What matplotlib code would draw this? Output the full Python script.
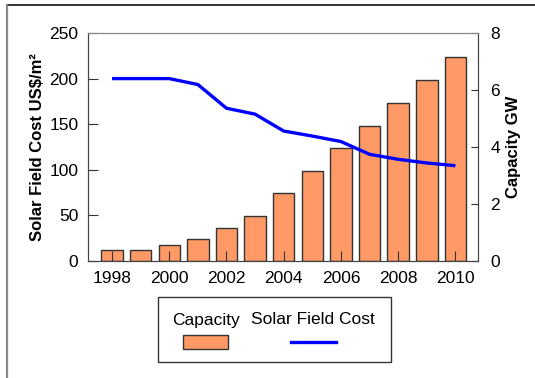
import numpy as np
import matplotlib.pyplot as plt
from matplotlib.lines import Line2D
from matplotlib.patches import Rectangle

plt.rcParams['font.family'] = ['Liberation Sans', 'DejaVu Sans']

years = np.arange(1998, 2011)
capacity_gw = [0.37, 0.37, 0.57, 0.76, 1.16, 1.57, 2.37, 3.17, 3.97, 4.75, 5.56, 6.36, 7.15]
field_cost = [200, 200, 200, 193.5, 167.5, 161, 142.5, 137, 131, 117, 111.5, 107.5, 104.5]
xtick_years = [1998, 2000, 2002, 2004, 2006, 2008, 2010]

FS = 12.5

fig = plt.figure(figsize=(5.35, 3.78), dpi=100)
ax = fig.add_axes([88 / 535, 1 - 261 / 378, 390 / 535, 228 / 378])
ax2 = ax.twinx()

# bars live on the right axis, cost line on the left axis in front of them
ax2.set_facecolor('#FFFFC6')
ax.set_zorder(ax2.get_zorder() + 1)
ax.patch.set_visible(False)

ax2.bar(years, capacity_gw, width=0.75, color='#FF9966', edgecolor='#333333', linewidth=1)
ax.plot(years, field_cost, color='#0000FF', linewidth=2.4, solid_capstyle='butt')

ax.set_xlim(1997.16, 2010.79)
ax.set_ylim(0, 250)
ax2.set_ylim(0, 8)
ax.set_yticks(np.arange(0, 251, 50))
ax2.set_yticks(np.arange(0, 9, 2))
ax.set_xticks(xtick_years)

ax.tick_params(axis='y', direction='in', length=7, labelsize=FS, pad=7, color='#333333')
ax.tick_params(axis='x', direction='in', length=7, labelsize=FS, pad=7, color='#333333')
ax2.tick_params(axis='y', direction='in', length=5, labelsize=FS, pad=9, color='#333333')

for a in (ax, ax2):
    for side in ('left', 'right', 'bottom'):
        a.spines[side].set_color('#444444')
    a.spines['top'].set_color('#888888')

ax.set_ylabel('Solar Field Cost US$/m²', fontsize=12, fontweight='bold', labelpad=3)
ax2.set_ylabel('Capacity GW', fontsize=12, fontweight='bold', labelpad=4)

# legend box with labels above their keys
fig.add_artist(Rectangle((158 / 535, 1 - 362 / 378), 233 / 535, 65 / 378,
                         transform=fig.transFigure, facecolor='white',
                         edgecolor='#333333', linewidth=1))
fig.text(172 / 535, 1 - 320 / 378, 'Capacity', fontsize=FS, ha='left', va='center')
fig.text(251 / 535, 1 - 320 / 378, 'Solar Field Cost', fontsize=FS, ha='left', va='center')
fig.add_artist(Rectangle((183 / 535, 1 - 349 / 378), 45 / 535, 14 / 378,
                         transform=fig.transFigure, facecolor='#FF9966',
                         edgecolor='#333333', linewidth=1))
fig.add_artist(Line2D([291 / 535, 336 / 535], [1 - 342 / 378, 1 - 342 / 378],
                      transform=fig.transFigure, color='#0000FF', linewidth=2.4))

# outer frame: dark rule along the top, grey rule down the left
fig.add_artist(Line2D([7 / 535, 1], [1 - 5 / 378, 1 - 5 / 378],
                      transform=fig.transFigure, color='#111111', linewidth=1.2))
fig.add_artist(Line2D([7 / 535, 7 / 535], [0, 1 - 5 / 378],
                      transform=fig.transFigure, color='#888888', linewidth=1.6))

fig.savefig('out.png', dpi=100)
